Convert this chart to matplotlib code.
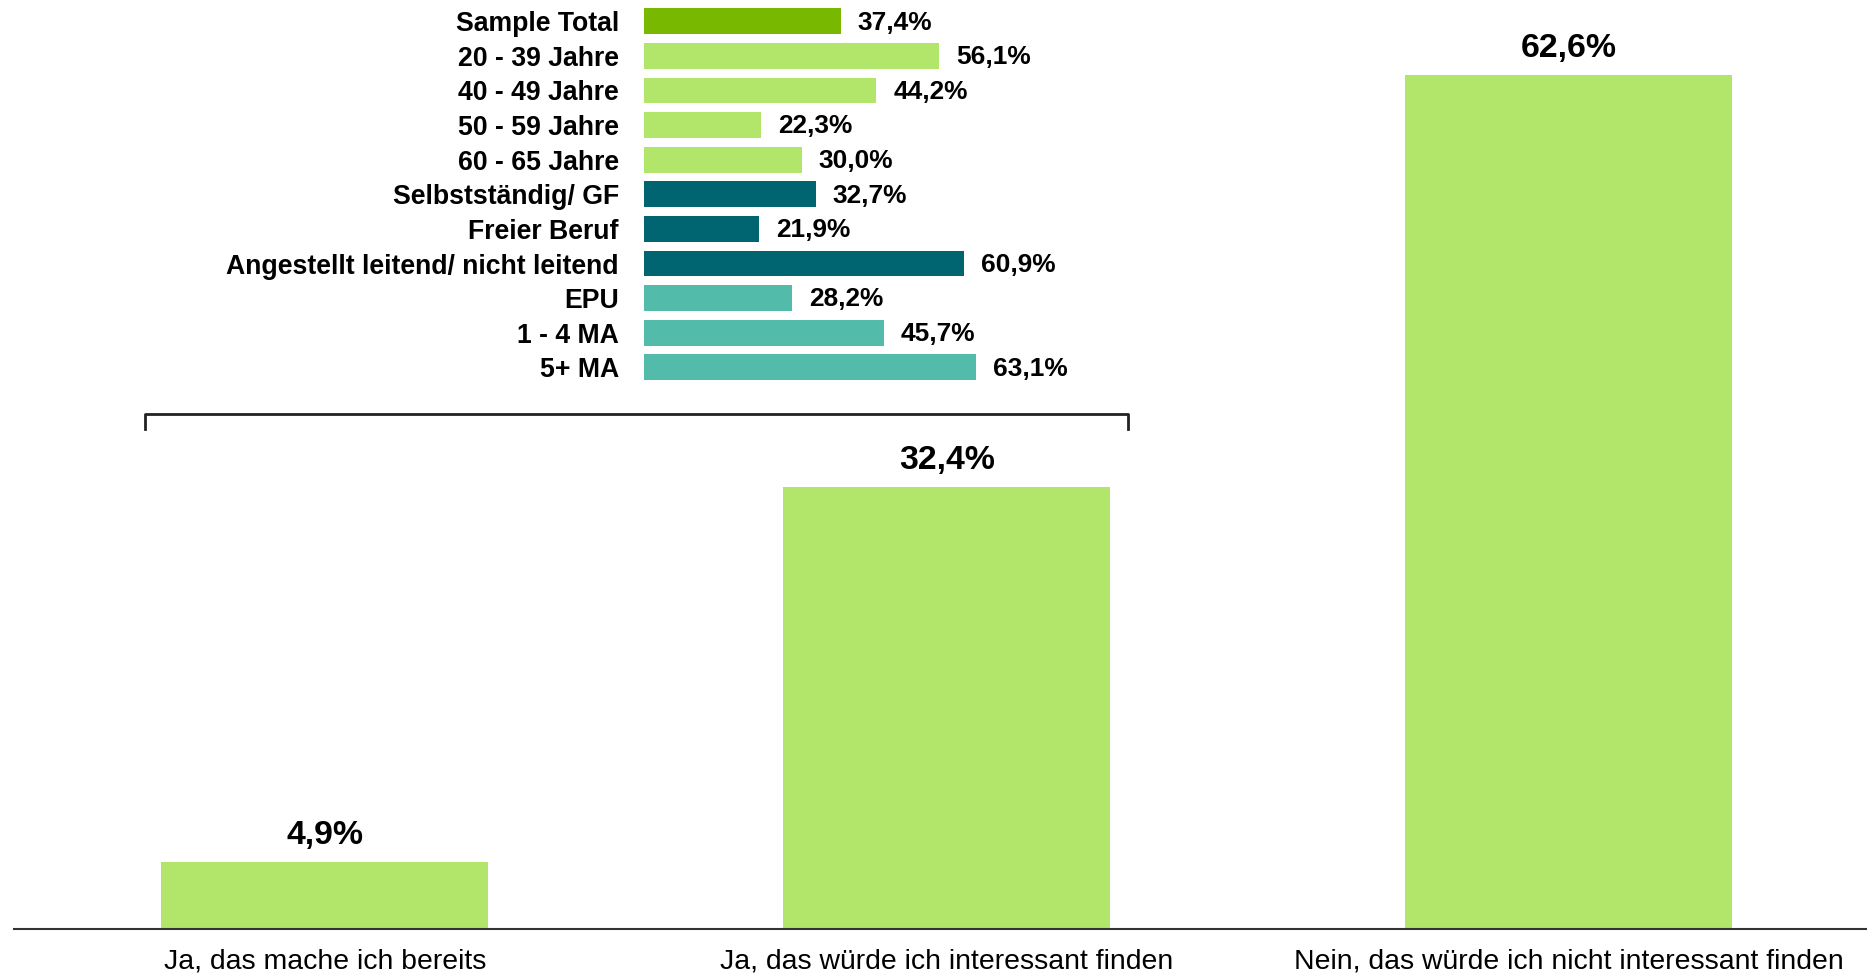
import matplotlib
matplotlib.use("Agg")
import matplotlib.pyplot as plt
from matplotlib.lines import Line2D

plt.rcParams['font.family'] = ['Liberation Sans', 'DejaVu Sans']

# main answers
answers = ["Ja, das mache ich bereits",
           "Ja, das würde ich interessant finden",
           "Nein, das würde ich nicht interessant finden"]
answer_values = [4.9, 32.4, 62.6]

# breakdown of "Ja, das würde ich interessant finden"
groups = ["Sample Total", "20 - 39 Jahre", "40 - 49 Jahre", "50 - 59 Jahre",
          "60 - 65 Jahre", "Selbstständig/ GF", "Freier Beruf",
          "Angestellt leitend/ nicht leitend", "EPU", "1 - 4 MA", "5+ MA"]
group_values = [37.4, 56.1, 44.2, 22.3, 30.0, 32.7, 21.9, 60.9, 28.2, 45.7, 63.1]
group_colors = ["#78B800"] + ["#B2E66B"] * 4 + ["#006570"] * 3 + ["#52BBAA"] * 3

main_green = "#B2E66B"


def pct(v):
    return f"{v:.1f}".replace(".", ",") + "%"


W, H = 1867, 975
fig = plt.figure(figsize=(W / 100, H / 100), dpi=100)

# main bar chart
ax = fig.add_axes([14 / W, 1 - 929 / H, 1 - 14 / W, 929 / H])
xs = range(len(answers))
ax.bar(xs, answer_values, width=0.526, color=main_green)
for x, v in zip(xs, answer_values):
    ax.annotate(pct(v), (x, v), xytext=(0, 8), textcoords="offset points",
                ha="center", va="bottom", fontsize=24.4, fontweight="bold")
ax.set_xlim(-0.5, 2.48)
ax.set_ylim(0, 68.1)
ax.set_xticks(list(xs))
ax.set_xticklabels(answers, fontsize=20.4)
ax.tick_params(axis="x", length=0, pad=14)
ax.set_yticks([])
for s in ["top", "right", "left"]:
    ax.spines[s].set_visible(False)
ax.spines["bottom"].set_color("#333333")
ax.spines["bottom"].set_linewidth(1.5)

# inset breakdown
ax2 = fig.add_axes([644 / W, 1 - 384.6 / H, 526 / W, (384.6 - 4) / H])
ys = range(len(groups))
ax2.barh(ys, group_values, height=0.75, color=group_colors)
for y, v in zip(ys, group_values):
    ax2.annotate(pct(v), (v, y), xytext=(12, -1), textcoords="offset points",
                 ha="left", va="center", fontsize=18.9, fontweight="bold")
ax2.set_xlim(0, 100)
ax2.set_ylim(len(groups) - 0.5, -0.5)
ax2.set_yticks(list(ys))
ax2.set_yticklabels(groups, fontsize=19.2, fontweight="bold")
ax2.tick_params(axis="y", length=0, pad=18)
ax2.set_xticks([])
ax2.patch.set_alpha(0)
for s in ax2.spines.values():
    s.set_visible(False)

# bracket pointing to the middle bar
bx0, bx1, by0, by1 = 145 / W, 1128 / W, 1 - 429 / H, 1 - 414 / H
fig.add_artist(Line2D([bx0, bx0, bx1, bx1], [by0, by1, by1, by0],
                      transform=fig.transFigure, color="#222222", lw=2))

fig.savefig("out.png", dpi=100)
